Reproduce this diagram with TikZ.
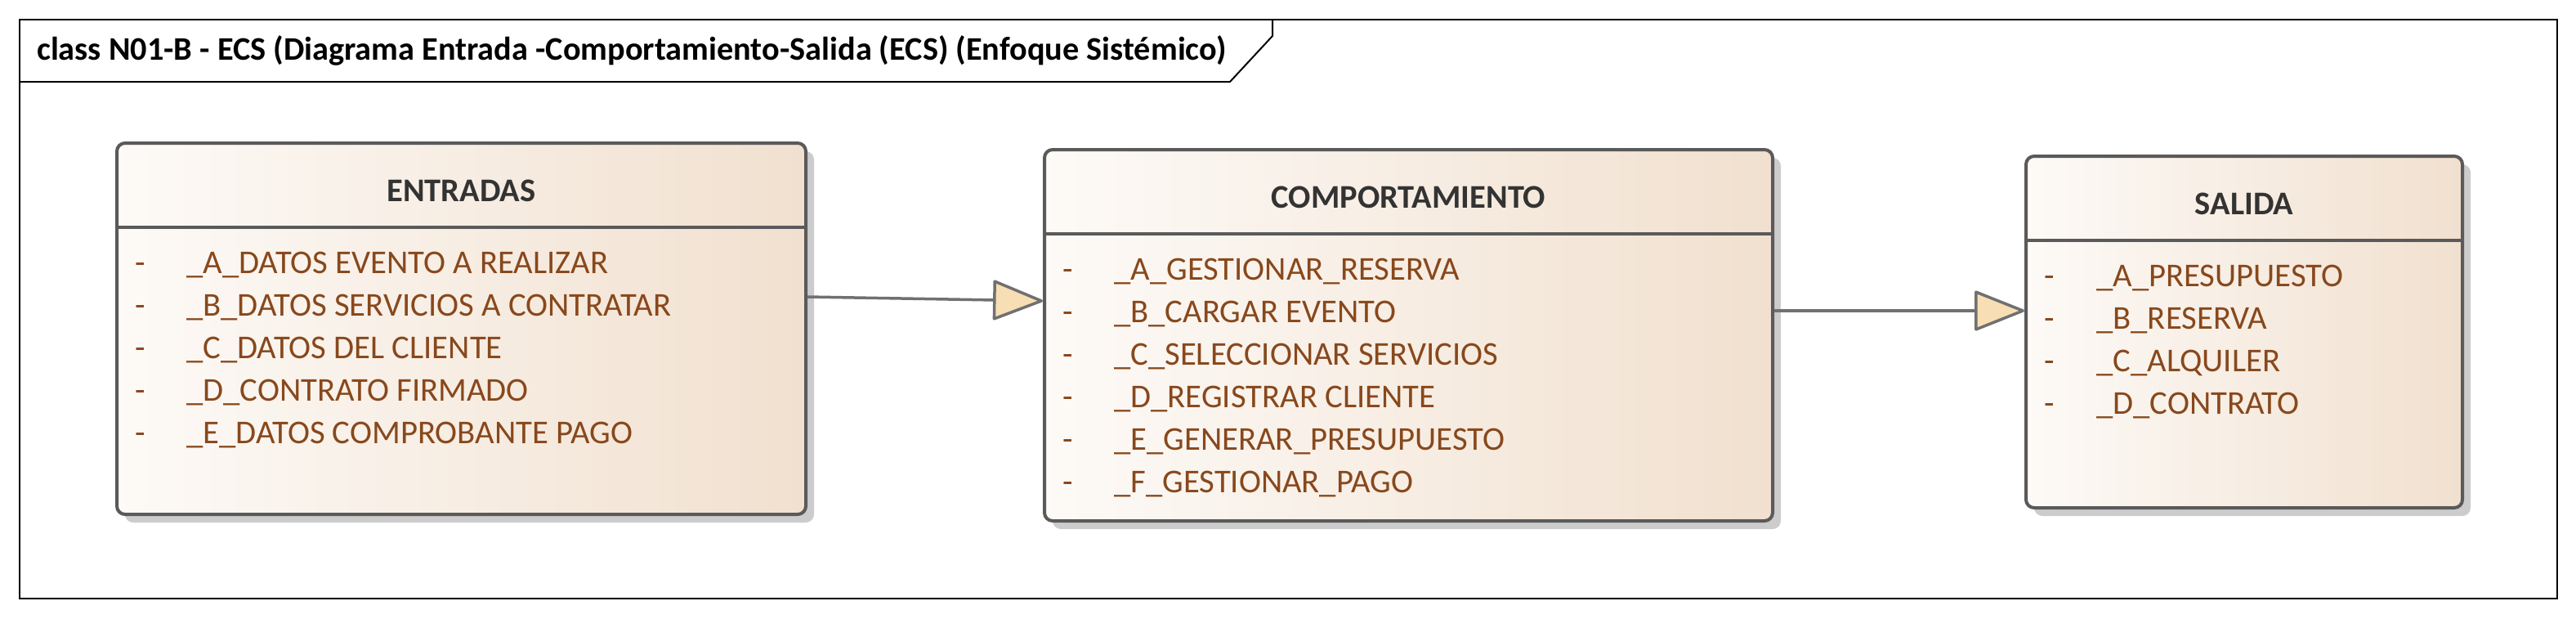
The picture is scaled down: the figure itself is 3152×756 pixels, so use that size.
\documentclass[tikz,border=0pt]{standalone}
\usepackage{fontspec}
\setmainfont{Carlito}
\usetikzlibrary{arrows.meta,shadows}
\definecolor{boxgray}{RGB}{90,90,90}
\definecolor{hdrtext}{RGB}{51,51,51}
\definecolor{itemtext}{RGB}{136,72,28}
\definecolor{gradL}{RGB}{253,250,247}
\definecolor{gradR}{RGB}{241,224,207}
\definecolor{linegray}{RGB}{112,112,112}
\definecolor{tipfill}{RGB}{247,222,180}
\definecolor{shadowgray}{RGB}{204,204,204}
\tikzset{
  umlbox/.style={rectangle, rounded corners=10pt, line width=4pt, draw=boxgray,
    left color=gradL, right color=gradR, inner sep=0pt, anchor=north west,
    drop shadow={shadow xshift=10pt, shadow yshift=-10pt, fill=shadowgray, opacity=1}},
  sepline/.style={line width=4pt, draw=boxgray},
  hdr/.style={anchor=base, text=hdrtext, font=\fontsize{40.5}{46}\selectfont\bfseries, inner sep=0pt},
  item/.style={anchor=base west, text=itemtext, font=\fontsize{40.7}{46}\selectfont, inner sep=0pt},
  gen/.style={line width=3.5pt, draw=linegray, line join=round,
    -{Triangle[length=64pt, width=50pt, fill=tipfill, line join=round]}},
  framepen/.style={line width=2pt, draw=black},
}
\begin{document}
\begin{tikzpicture}[x=1pt,y=-1pt]
\useasboundingbox (0,0) rectangle (3152,756);
% frame
\draw[framepen] (24,24) rectangle (3129,732);
\draw[framepen] (24,100) -- (1505,100) -- (1557,44) -- (1557,24);
\node[anchor=base west, inner sep=0pt, font=\fontsize{40.3}{46}\selectfont\bfseries] (frameTitle) at (45,73)
  {class N01-B - ECS (Diagrama Entrada -Comportamiento-Salida (ECS) (Enfoque Sistémico)};

% boxes
\node[umlbox, minimum width=843pt, minimum height=454pt] (ent) at (141,173) {};
\node[umlbox, minimum width=891pt, minimum height=454pt] (comp) at (1276,181) {};
\node[umlbox, minimum width=534pt, minimum height=430pt] (sal) at (2477,189) {};

% header separators
\foreach \b in {ent,comp,sal}{
  \draw[sepline] ([yshift=-105pt]\b.north west) -- ([yshift=-105pt]\b.north east);
}

% headers
\node[hdr] (entT) at ([yshift=-73pt]ent.north) {ENTRADAS};
\node[hdr] (compT) at ([yshift=-73pt]comp.north) {COMPORTAMIENTO};
\node[hdr] (salT) at ([yshift=-73pt]sal.north) {SALIDA};

% items
\foreach \t [count=\i] in {\_A\_DATOS EVENTO A REALIZAR, \_B\_DATOS SERVICIOS A CONTRATAR, \_C\_DATOS DEL CLIENTE, \_D\_CONTRATO FIRMADO, \_E\_DATOS COMPROBANTE PAGO}{
  \node[item] (entD\i) at ([xshift=24pt, yshift={-161pt-52pt*(\i-1)}]ent.north west) {-};
  \node[item] (entI\i) at ([xshift=87pt, yshift={-161pt-52pt*(\i-1)}]ent.north west) {\t};
}
\foreach \t [count=\i] in {\_A\_GESTIONAR\_RESERVA, \_B\_CARGAR EVENTO, \_C\_SELECCIONAR SERVICIOS, \_D\_REGISTRAR CLIENTE, \_E\_GENERAR\_PRESUPUESTO, \_F\_GESTIONAR\_PAGO}{
  \node[item] (compD\i) at ([xshift=24pt, yshift={-161pt-52pt*(\i-1)}]comp.north west) {-};
  \node[item] (compI\i) at ([xshift=87pt, yshift={-161pt-52pt*(\i-1)}]comp.north west) {\t};
}
\foreach \t [count=\i] in {\_A\_PRESUPUESTO, \_B\_RESERVA, \_C\_ALQUILER, \_D\_CONTRATO}{
  \node[item] (salD\i) at ([xshift=24pt, yshift={-161pt-52pt*(\i-1)}]sal.north west) {-};
  \node[item] (salI\i) at ([xshift=88pt, yshift={-161pt-52pt*(\i-1)}]sal.north west) {\t};
}

% connectors
\draw[gen] ([yshift=-190pt]ent.north east) -- ([yshift=-187pt]comp.north west);
\draw[gen] ([yshift=-199pt]comp.north east) -- ([yshift=-191pt]sal.north west);
\end{tikzpicture}
\end{document}
